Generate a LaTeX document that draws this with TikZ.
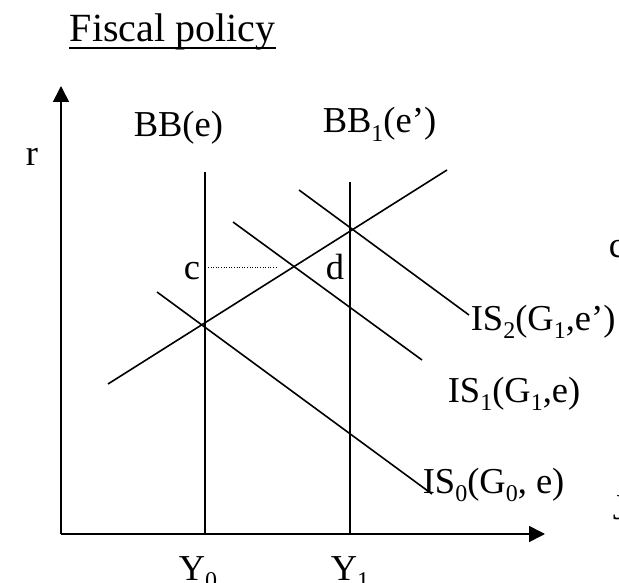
\documentclass[tikz,border=0pt]{standalone}
\usepackage{fontspec}
\setmainfont{Liberation Serif}
\usetikzlibrary{arrows.meta}
\newcommand{\mysub}[1]{\raisebox{-0.22em}{\fontsize{24}{24}\selectfont #1}}
\begin{document}
\begin{tikzpicture}[x=1pt,y=-1pt,line width=1.6pt,
  lbl/.style={inner sep=0pt,anchor=base west,font=\fontsize{36.5}{40}\selectfont},
  axis/.style={-{Triangle[length=16pt,width=16pt]}},
  curve/.style={line width=1.6pt}]
\useasboundingbox (0,0) rectangle (619,583);
% title
\node[lbl,font=\fontsize{40}{44}\selectfont] (title) at (69,42) {Fiscal policy};
\draw[line width=1.8pt] ([yshift=-6pt]title.base west) -- ([yshift=-6pt]title.base east);
% axes
\coordinate (O) at (61,534);
\coordinate (ytip) at (61,86);
\coordinate (xtip) at (545,534);
\draw[axis] (O) -- (ytip);
\draw[axis] (O) -- (xtip);
% verticals
\coordinate (bbzt) at (205,172);
\coordinate (bbzb) at (205,534);
\coordinate (bbot) at (350,182);
\coordinate (bbob) at (350,534);
\draw[curve] (bbzb) -- (bbzt);
\draw[curve] (bbob) -- (bbot);
% upward line
\coordinate (upA) at (108,384);
\coordinate (upB) at (447,170);
\draw[curve] (upA) -- (upB);
% IS curves
\coordinate (isza) at (157,292);
\coordinate (iszb) at (432,494);
\coordinate (isoa) at (233,222);
\coordinate (isob) at (422,360);
\coordinate (ista) at (299,190);
\coordinate (istb) at (469,315);
\draw[curve] (isza) -- (iszb);
\draw[curve] (isoa) -- (isob);
\draw[curve] (ista) -- (istb);
% dotted
\coordinate (dta) at (208,267);
\coordinate (dtb) at (278,267);
\draw[line width=0.8pt,dash pattern=on 1pt off 1.6pt] (dta) -- (dtb);
% labels
\node[lbl] (r) at (25,166) {r};
\node[lbl] (bbe) at (133,137) {BB(e)};
\node[lbl] (bbone) at (322,133) {BB\mysub{1}(e’)};
\node[lbl] (c) at (183,279) {c};
\node[lbl] (d) at (325,279) {d};
\node[lbl] (istwo) at (470,330) {IS\mysub{2}(G\mysub{1},e’)};
\node[lbl] (isone) at (447,402) {IS\mysub{1}(G\mysub{1},e)};
\node[lbl] (iszero) at (422,493) {IS\mysub{0}(G\mysub{0}, e)};
\node[lbl] (yzero) at (178,580) {Y\mysub{0}};
\node[lbl] (yone) at (330,580) {Y\mysub{1}};
\node[lbl] (cutc) at (608,257) {c};
\node[lbl] (cutj) at (612,519) {J};
\end{tikzpicture}
\end{document}
